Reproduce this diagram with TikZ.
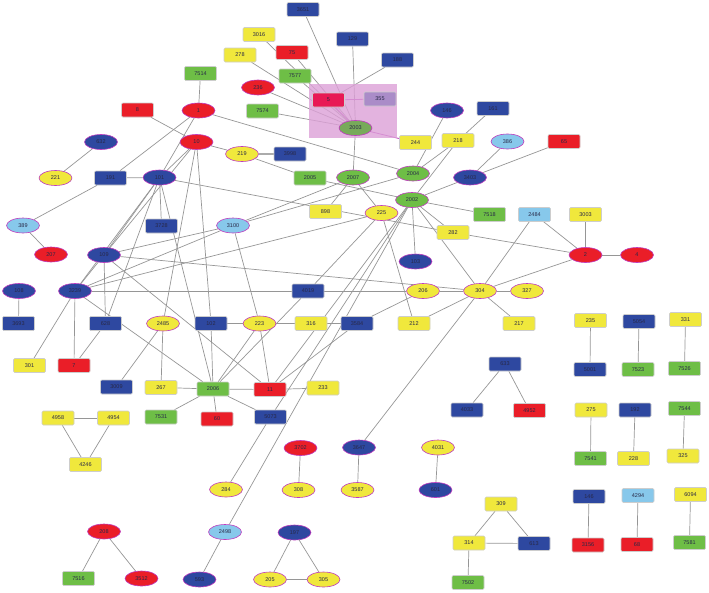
\documentclass[tikz,border=0pt]{standalone}
\usepackage{fontspec}
\setmainfont{Liberation Sans}
\usetikzlibrary{shapes.geometric}
\definecolor{cred}{RGB}{234,30,40}
\definecolor{cyel}{RGB}{240,232,60}
\definecolor{cblu}{RGB}{46,72,160}
\definecolor{cgrn}{RGB}{110,190,70}
\definecolor{clb}{RGB}{135,200,235}
\definecolor{cfive}{RGB}{232,25,85}
\definecolor{cthree}{RGB}{170,140,200}
\definecolor{ctwo}{RGB}{120,170,90}
\definecolor{rectbd}{RGB}{205,205,205}
\definecolor{ellbd}{RGB}{190,60,190}
\definecolor{edgec}{RGB}{150,150,150}
\definecolor{magedge}{RGB}{190,70,190}
\definecolor{hlc}{RGB}{220,160,215}
\definecolor{txt}{RGB}{40,40,70}
\pgfdeclarelayer{edges}
\pgfdeclarelayer{hl}
\pgfsetlayers{edges,hl,main}
\tikzset{
 rn/.style={rectangle, rounded corners=1.2pt, draw=rectbd, line width=0.6pt, minimum width=32pt, minimum height=14pt, inner sep=0pt, font=\fontsize{5.5}{6}\selectfont, text=txt},
 en/.style={ellipse, draw=ellbd, line width=0.6pt, minimum width=33pt, minimum height=15pt, inner sep=0pt, font=\fontsize{5.5}{6}\selectfont, text=txt},
 fr/.style={fill=cred}, fy/.style={fill=cyel}, fb/.style={fill=cblu},
 fg/.style={fill=cgrn}, fl/.style={fill=clb},
 ed/.style={draw=edgec, line width=0.7pt},
 med/.style={draw=magedge, line width=0.8pt},
 thk/.style={draw=edgec!80, line width=1.4pt},
}
\begin{document}
\begin{tikzpicture}[x=1pt,y=-1pt]
\useasboundingbox (0,0) rectangle (709,592);
\node[rn,fb] (n3651) at (303,9.5) {3651};
\node[rn,fy] (n3016) at (259,34.5) {3016};
\node[rn,fb] (n129) at (352.5,39) {129};
\node[rn,fr] (n75) at (292,52.5) {75};
\node[rn,fy] (n278) at (240,55) {278};
\node[rn,fb] (n188) at (397.5,60) {188};
\node[rn,fg] (n7514) at (200.5,73.5) {7514};
\node[rn,fg] (n7577) at (295,76) {7577};
\node[en,fr] (n236) at (258,87.5) {236};
\node[rn,fill=cfive] (n5) at (328.5,100) {5};
\node[rn,fill=cthree] (n355) at (380,99) {355};
\node[rn,fg] (n7574) at (262.5,111) {7574};
\node[en,fill=ctwo] (n2003) at (355.5,128) {2003};
\node[en,fb] (n146) at (447,110.5) {146};
\node[rn,fb] (n161) at (493,108.5) {161};
\node[rn,fr] (n8) at (137.5,110) {8};
\node[en,fr] (n1) at (198.5,110.5) {1};
\node[en,fb] (n632) at (101,142) {632};
\node[en,fr] (n10) at (196.5,142) {10};
\node[rn,fy] (n244) at (415.5,142.5) {244};
\node[rn,fy] (n218) at (458,140.5) {218};
\node[en,fl] (n386) at (507.5,141.5) {386};
\node[rn,fr] (n65) at (564,141.5) {65};
\node[en,fy] (n219) at (242,154) {219};
\node[rn,fb] (n3998) at (290,154) {3998};
\node[en,fy] (n221) at (55.5,178) {221};
\node[rn,fb] (n191) at (110.5,178) {191};
\node[en,fb] (n101) at (159.5,177.5) {101};
\node[rn,fg] (n2005) at (310,178) {2005};
\node[en,fg] (n2007) at (353,177.5) {2007};
\node[en,fg] (n2004) at (413,173.5) {2004};
\node[en,fb] (n3403) at (470,177.5) {3403};
\node[en,fg] (n2002) at (412,200) {2002};
\node[rn,fg] (n7518) at (489.5,214.5) {7518};
\node[rn,fl] (n2484) at (534.5,214.5) {2484};
\node[rn,fy] (n3003) at (585.5,214.5) {3003};
\node[rn,fy] (n898) at (325.5,211.5) {898};
\node[en,fy] (n225) at (381.5,213) {225};
\node[rn,fb] (n3728) at (161.5,226) {3728};
\node[en,fl] (n3100) at (233,225.5) {3100};
\node[en,fl] (n389) at (23,225.5) {389};
\node[rn,fy] (n282) at (453,232.5) {282};
\node[en,fr] (n2) at (585.5,255) {2};
\node[en,fr] (n4) at (637,255) {4};
\node[en,fr] (n207) at (51,254.5) {207};
\node[en,fb] (n109) at (104,255) {109};
\node[en,fb] (n103) at (415.5,261.5) {103};
\node[en,fb] (n108) at (19,291) {108};
\node[en,fb] (n3239) at (75,291) {3239};
\node[rn,fb] (n4019) at (308,291) {4019};
\node[en,fy] (n206) at (423,291) {206};
\node[en,fy] (n304) at (480,291) {304};
\node[en,fy] (n327) at (527,291) {327};
\node[rn,fb] (n3693) at (18.5,323.5) {3693};
\node[rn,fb] (n628) at (105.5,323.5) {628};
\node[en,fy] (n2485) at (163,323.5) {2485};
\node[rn,fb] (n102) at (211,323.5) {102};
\node[en,fy] (n223) at (259.5,323.5) {223};
\node[rn,fy] (n316) at (311,323.5) {316};
\node[rn,fb] (n3584) at (357,323.5) {3584};
\node[rn,fy] (n212) at (414,323.5) {212};
\node[rn,fy] (n217) at (519,323.5) {217};
\node[rn,fy] (n235) at (590.5,320.5) {235};
\node[rn,fb] (n5054) at (639,321.5) {5054};
\node[rn,fy] (n331) at (685.5,319.5) {331};
\node[rn,fy] (n301) at (29.5,365.5) {301};
\node[rn,fr] (n7) at (74,365.5) {7};
\node[rn,fb] (n633) at (505,364) {633};
\node[rn,fb] (n5001) at (590,369.5) {5001};
\node[rn,fg] (n7523) at (638,369.5) {7523};
\node[rn,fg] (n7526) at (684.5,368.5) {7526};
\node[rn,fb] (n3009) at (116.5,387) {3009};
\node[rn,fy] (n267) at (161,387.5) {267};
\node[rn,fg] (n2006) at (213,389) {2006};
\node[rn,fr] (n11) at (270,389.5) {11};
\node[rn,fy] (n233) at (323,388) {233};
\node[rn,fy] (n4958) at (58,418) {4958};
\node[rn,fy] (n4954) at (113.5,418) {4954};
\node[rn,fg] (n7531) at (161,417) {7531};
\node[rn,fr] (n60) at (217,419) {60};
\node[rn,fb] (n5073) at (270.5,417) {5073};
\node[rn,fb] (n4033) at (467,410) {4033};
\node[rn,fr] (n4952) at (529.5,410.5) {4952};
\node[rn,fy] (n275) at (591,410) {275};
\node[rn,fb] (n192) at (635,410) {192};
\node[rn,fg] (n7544) at (684.5,408.5) {7544};
\node[rn,fy] (n4246) at (85.5,464.5) {4246};
\node[rn,fg] (n7541) at (590.5,458.5) {7541};
\node[rn,fy] (n228) at (633.5,458.5) {228};
\node[rn,fy] (n325) at (683,456) {325};
\node[en,fr] (n3702) at (300.5,448) {3702};
\node[en,fb] (n3647) at (359,447.5) {3647};
\node[en,fy] (n4031) at (438,447.5) {4031};
\node[en,fy] (n284) at (226,489.5) {284};
\node[en,fy] (n308) at (298.5,490) {308};
\node[en,fy] (n3587) at (357.5,490) {3587};
\node[en,fb] (n601) at (435.5,490) {601};
\node[rn,fy] (n309) at (501,504) {309};
\node[rn,fb] (n146b) at (589,496.5) {146};
\node[rn,fl] (n4294) at (638,495.5) {4294};
\node[rn,fy] (n6094) at (690.5,494.5) {6094};
\node[en,fr] (n208) at (104,531.5) {208};
\node[en,fl] (n2498) at (225,532) {2498};
\node[en,fb] (n197) at (294.5,532.5) {197};
\node[rn,fy] (n314) at (469,543) {314};
\node[rn,fb] (n613) at (534,543.5) {613};
\node[rn,fr] (n3156) at (588,545) {3156};
\node[rn,fr] (n68) at (637,544.5) {68};
\node[rn,fg] (n7581) at (689.5,542.5) {7581};
\node[rn,fg] (n7516) at (78.5,578.5) {7516};
\node[en,fr] (n3512) at (141.5,578.5) {3512};
\node[en,fb] (n593) at (199.5,579.5) {593};
\node[en,fy] (n205) at (270,579.5) {205};
\node[en,fy] (n305) at (323.5,579.5) {305};
\node[rn,fg] (n7502) at (468,582.5) {7502};
\begin{pgfonlayer}{hl}
\fill[hlc,opacity=0.8] (309,84) rectangle (397,138);
\end{pgfonlayer}
\begin{pgfonlayer}{edges}
\foreach \a/\b in {3651/2003,3016/2003,129/2003,75/2003,278/2003,188/5,7577/2003,236/2003,7574/2003,
 2003/2007,7514/1,8/10,1/191,1/2004,1/101,10/219,219/2005,2005/2002,
 632/221,191/101,191/389,389/207,101/3728,101/282,101/109,101/2006,101/3239,10/101,10/109,
 10/2485,2485/267,2485/3009,10/102,102/2006,109/3100,109/304,109/11,109/628,
 3239/3100,3239/225,3239/4019,3239/301,3239/7,3239/2006,3239/109,108/3693,628/7,628/101,
 3100/2007,3100/2004,3100/223,2007/898,2007/225,146/2004,218/2004,161/218,218/2002,
 2002/3403,3403/386,3403/65,2002/7518,2002/282,2002/103,2002/304,2002/11,2002/5073,2002/2498,
 225/4019,225/212,282/2,2484/2,3003/2,2/4,2/304,2484/304,
 304/327,304/217,304/212,304/206,304/3647,4019/206,4019/2006,
 102/223,223/316,316/3584,223/11,223/2006,3584/206,3584/11,
 11/233,2006/11,2006/5073,2006/267,2006/7531,2006/60,5073/284,2498/593,
 4958/4954,4958/4246,4954/4246,208/7516,208/3512,3702/308,3647/3587,4031/601,
 197/205,197/305,205/305,633/4033,633/4952,309/314,309/613,314/613,314/7502,
 235/5001,5054/7523,331/7526,275/7541,192/228,7544/325,146b/3156,4294/68,6094/7581}
 {\draw[ed] (n\a) -- (n\b);}
\draw[thk] (n219) -- (n3998);
\draw[med] (n5) -- (n2003);
\draw[med] (n5) -- (n355);
\draw[med] (n2003) -- (n244);
\end{pgfonlayer}
\end{tikzpicture}
\end{document}
